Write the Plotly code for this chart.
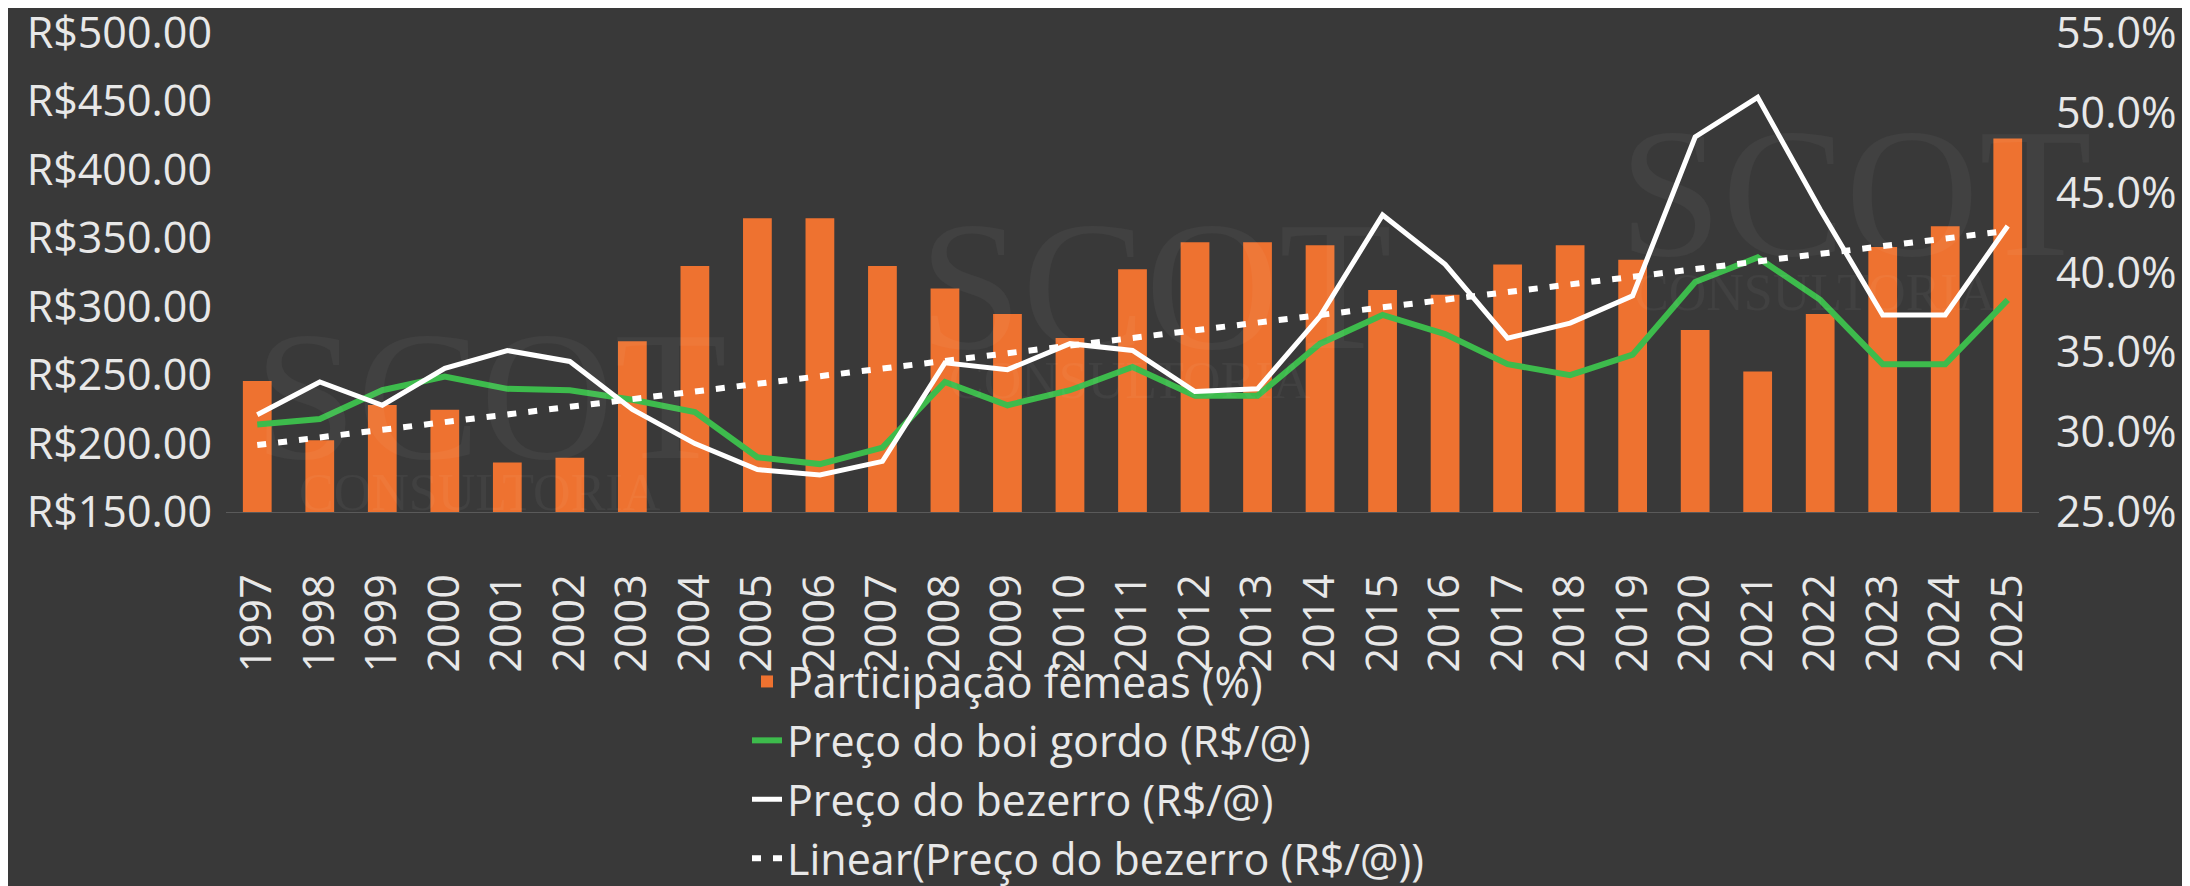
import numpy as np
import plotly.graph_objects as go

years = ["1997", "1998", "1999", "2000", "2001", "2002", "2003", "2004", "2005", "2006",
         "2007", "2008", "2009", "2010", "2011", "2012", "2013", "2014", "2015", "2016",
         "2017", "2018", "2019", "2020", "2021", "2022", "2023", "2024", "2025"]

femeas_pct = [33.2, 29.5, 31.7, 31.4, 28.1, 28.4, 35.7, 40.4, 43.4, 43.4,
              40.4, 39.0, 37.4, 35.9, 40.2, 41.9, 41.9, 41.7, 38.9, 38.6,
              40.5, 41.7, 40.8, 36.4, 33.8, 37.4, 41.6, 42.9, 48.4]

boi_gordo = [214, 218, 239, 249, 240, 239, 232, 223, 190, 185,
             197, 245, 228, 239, 256, 235, 235, 273, 294, 280,
             258, 250, 265, 318, 336, 305, 258, 258, 305]

bezerro = [221, 245, 228, 255, 268, 260, 225, 200, 181, 177,
           187, 259, 254, 273, 268, 238, 240, 293, 367, 331,
           277, 288, 308, 424, 453, 371, 294, 294, 359]

# Linear trendline (Excel-style) of the calf price
idx = np.arange(len(bezerro))
slope, intercept = np.polyfit(idx, np.array(bezerro, dtype=float), 1)
trend = slope * idx + intercept

BG = "#393939"
TXT = "#E8E8E8"
FONT = "Open Sans"
FS = 43

# plot area (figure coordinates)
L, R, T, B = 218, 159, 25, 382
PW, PH = 2190 - L - R, 886 - T - B

fig = go.Figure()

fig.add_trace(go.Bar(
    x=years, y=femeas_pct, name="Participação fêmeas (%)",
    marker=dict(color="#EE7230", line=dict(width=0)), yaxis="y"))

fig.add_trace(go.Scatter(
    x=years, y=boi_gordo, name="Preço do boi gordo (R$/@)", mode="lines",
    line=dict(color="#3DBB4C", width=6), yaxis="y2"))

fig.add_trace(go.Scatter(
    x=years, y=bezerro, name="Preço do bezerro (R$/@)", mode="lines",
    line=dict(color="#FFFFFF", width=5), yaxis="y2"))

fig.add_trace(go.Scatter(
    x=years, y=trend, name="Linear(Preço do bezerro (R$/@))", mode="lines",
    line=dict(color="#FFFFFF", width=6, dash="9px,12px"), yaxis="y2"))

# faint watermark (page pixel positions)
wm = [
    (490, 395, "SCOT", 185), (480, 492, "CONSULTORIA", 52),
    (1155, 285, "SCOT", 185), (1130, 380, "CONSULTORIA", 52),
    (1855, 192, "SCOT", 185), (1815, 292, "CONSULTORIA", 52),
]
annotations = []
for px, py, txt, sz in wm:
    annotations.append(dict(
        x=(px - 8 - L) / PW, y=(T + PH - (py - 8)) / PH, xref="paper", yref="paper",
        text=txt, showarrow=False, xanchor="center", yanchor="middle",
        font=dict(family="Liberation Serif", size=sz, color="rgba(255,255,255,0.045)")))

fig.update_layout(
    width=2190, height=886,
    paper_bgcolor=BG, plot_bgcolor=BG,
    margin=dict(l=L, r=R, t=T, b=B, autoexpand=False),
    font=dict(family=FONT, size=FS, color=TXT),
    bargap=0.54,
    showlegend=True,
    legend=dict(
        orientation="v", x=(739 - L) / PW, xanchor="left",
        y=(T + PH - 639) / PH, yanchor="top",
        bgcolor="rgba(0,0,0,0)", font=dict(family=FONT, size=FS, color=TXT),
        itemwidth=30, tracegroupgap=0),
    annotations=annotations,
    xaxis=dict(
        type="category", tickangle=-90, showgrid=False, zeroline=False,
        showline=True, linecolor="#5A5A5A", linewidth=1, ticks="",
        automargin=False, ticklabeloverflow="allow",
        ticklabelstandoff=44, tickfont=dict(family=FONT, size=FS, color=TXT)),
    yaxis=dict(
        side="right", range=[25, 55], dtick=5, tick0=25, automargin=False,
        ticklabeloverflow="allow",
        tickformat=".1f", ticksuffix="%", showgrid=False, zeroline=False,
        showline=False, ticks="", ticklabelstandoff=16,
        tickfont=dict(family=FONT, size=FS, color=TXT)),
    yaxis2=dict(
        side="left", overlaying="y", range=[150, 500], dtick=50, tick0=150,
        automargin=False, ticklabeloverflow="allow",
        tickprefix="R$", tickformat=".2f", showgrid=False, zeroline=False,
        showline=False, ticks="", ticklabelstandoff=13,
        tickfont=dict(family=FONT, size=FS, color=TXT)),
)

fig.write_html("out.html")
